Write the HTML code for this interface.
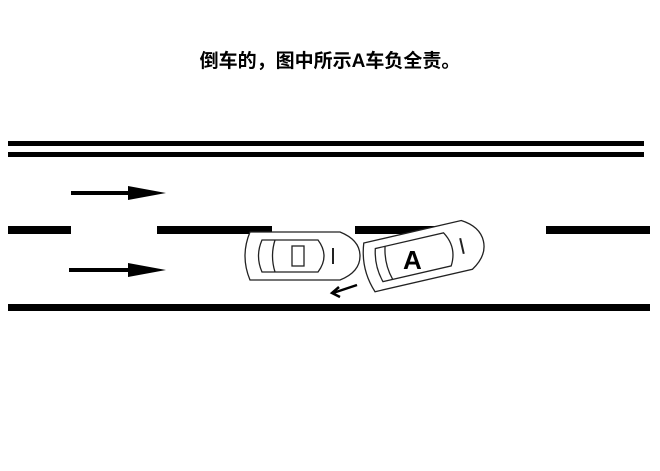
<!DOCTYPE html>
<html><head><meta charset="utf-8"><style>
body{margin:0;width:660px;height:471px;background:#fff;overflow:hidden;position:relative}
.t{position:absolute;left:0;width:660px;top:46px;text-align:center;font:bold 19px "Liberation Sans","Noto Sans CJK SC",sans-serif;color:#000}
</style></head><body>
<div class="t">倒车的，图中所示A车负全责。</div>
<svg width="660" height="471" style="position:absolute;left:0;top:0">
<g fill="#000">
<rect x="8" y="141" width="636" height="5"/>
<rect x="8" y="152" width="636" height="5"/>
<rect x="8" y="226" width="63" height="8"/>
<rect x="157" y="226" width="115" height="8"/>
<rect x="355" y="226" width="100" height="8"/>
<rect x="546" y="226" width="104" height="8"/>
<rect x="8" y="304" width="642" height="7"/>
<rect x="71" y="191" width="62" height="4"/>
<polygon points="128,186 166,193 128,200"/>
<rect x="69" y="268" width="64" height="4"/>
<polygon points="128,263 166,270 128,277"/>
</g>
<g fill="#fff" stroke="#222" stroke-width="1.3">
<path d="M250,232 Q240,256 250,280 L340,280 Q360,272 360,256 Q360,240 340,232 Z"/>
<path d="M262,240 Q255,256 262,272 L318,272 Q330,256 318,240 Z" fill="none"/>
<rect x="292" y="246" width="12" height="20" fill="none"/>
<path d="M275,240 Q270,256 275,272" fill="none"/>
<path d="M333,248 L333,264" stroke-width="2"/>
</g>
<g transform="translate(423,255) rotate(-13)" fill="#fff" stroke="#222" stroke-width="1.3">
<path d="M-55,-25 Q-64,0 -55,25 L45,25 Q62,15 62,0 Q62,-15 45,-25 Z"/>
<path d="M-45,-17 Q-50,0 -45,17 L25,17 Q35,0 25,-17 Z" fill="none"/>
<path d="M-35,-17 Q-40,0 -35,17" fill="none"/>
<path d="M40,-8 L40,8" stroke-width="2"/>
</g>
<text x="403" y="269" font-family="Liberation Sans,sans-serif" font-weight="bold" font-size="26" fill="#000">A</text>
<g stroke="#000" stroke-width="2.5" fill="none">
<line x1="357" y1="285" x2="333" y2="293"/>
<polyline points="339,287 332,293 340,297"/>
</g>
</svg>
</body></html>
